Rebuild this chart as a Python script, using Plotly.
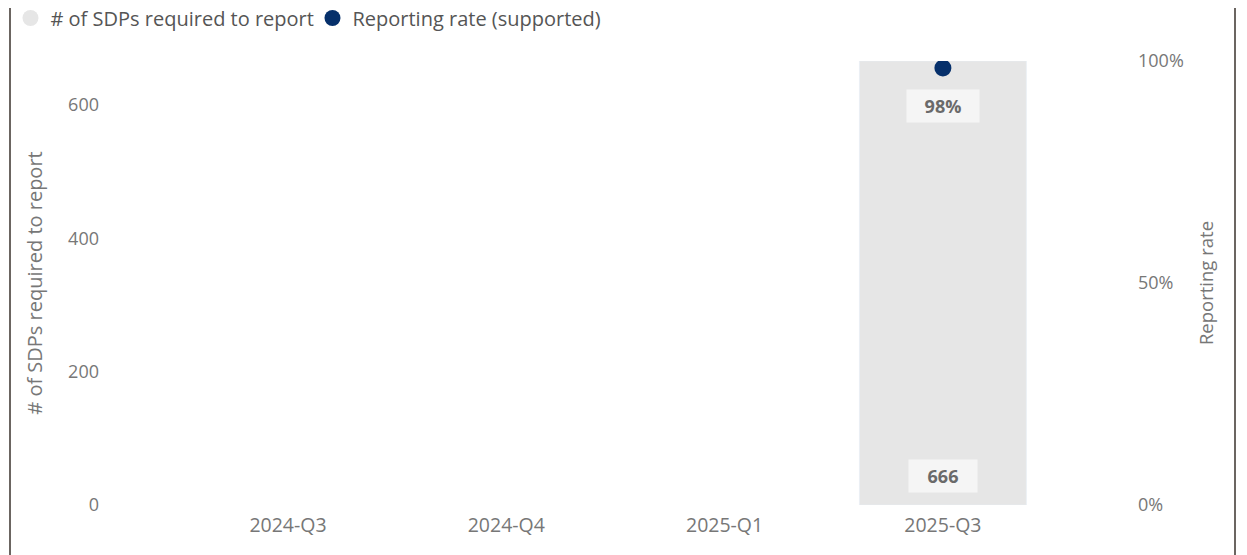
import plotly.graph_objects as go

quarters = ["2024-Q3", "2024-Q4", "2025-Q1", "2025-Q3"]
sdps_required = [None, None, None, 666]
reporting_rate = [None, None, None, 0.984]

BAR_COLOR = "#e6e6e6"
DOT_COLOR = "#06306b"
TXT = "#777777"
FONT = "Open Sans"

# page body adds an 8px offset; size the figure to the visible area
W, H = 1239, 547
L, R, T, B = 92, 117, 53, 50
pw = W - L - R

fig = go.Figure()
fig.add_trace(go.Bar(x=quarters, y=sdps_required, marker_color=BAR_COLOR, width=0.765,
                     showlegend=False, hoverinfo="x+y"))
fig.add_trace(go.Scatter(x=quarters, y=reporting_rate, yaxis="y2", mode="markers",
                         marker=dict(color=DOT_COLOR, size=17), showlegend=False))
# legend entries (circles)
fig.add_trace(go.Scatter(x=[None], y=[None], mode="markers", name="# of SDPs required to report",
                         marker=dict(color=BAR_COLOR, size=17)))
fig.add_trace(go.Scatter(x=[None], y=[None], mode="markers", name="Reporting rate (supported)",
                         marker=dict(color=DOT_COLOR, size=17)))

for q, v in zip(quarters, sdps_required):
    if v is not None:
        fig.add_annotation(x=q, y=0, yref="y", text=f"<b>{v}</b>", showarrow=False, yshift=29,
                           bgcolor="#f5f5f5", width=60, height=24, borderpad=4,
                           font=dict(family=FONT, size=18, color="#6a6a6a"))
for q, v in zip(quarters, reporting_rate):
    if v is not None:
        fig.add_annotation(x=q, y=v, yref="y2", text=f"<b>{v:.0%}</b>", showarrow=False, yshift=-38,
                           bgcolor="#f5f5f5", width=64, height=24, borderpad=4,
                           font=dict(family=FONT, size=18, color="#6a6a6a"))

# card side borders
for px in (2, 1227):
    xp = (px - L) / pw
    fig.add_shape(type="line", xref="paper", yref="paper", x0=xp, x1=xp, y0=-0.2, y1=1.3,
                  line=dict(color="#6b6561", width=2))

fig.update_layout(
    width=W, height=H,
    margin=dict(l=L, r=R, t=T, b=B, autoexpand=False),
    paper_bgcolor="white", plot_bgcolor="white",
    font=dict(family=FONT, size=18, color=TXT),
    xaxis=dict(type="category", categoryorder="array", categoryarray=quarters,
               range=[-0.861, 3.857], showgrid=False, zeroline=False, showline=False,
               ticks="", ticklabelstandoff=6, tickfont=dict(size=19.5, color=TXT)),
    yaxis=dict(range=[0, 666], tickvals=[0, 200, 400, 600], showgrid=False, zeroline=False,
               showline=False, ticks="", tickfont=dict(size=18, color=TXT),
               title=dict(text="# of SDPs required to report", font=dict(size=20, color=TXT), standoff=20)),
    yaxis2=dict(overlaying="y", side="right", range=[0, 1], tickvals=[0, 0.5, 1],
                tickformat=".0%", showgrid=False, zeroline=False, showline=False, ticks="",
                ticklabelstandoff=7, tickfont=dict(size=18, color=TXT),
                title=dict(text="Reporting rate", font=dict(size=18.5, color=TXT), standoff=17)),
    legend=dict(orientation="h", xref="container", yref="container", x=0.002, y=1 - 10 / H,
                xanchor="left", yanchor="middle", font=dict(size=20, color="#555555"),
                itemwidth=30, entrywidth=257, entrywidthmode="pixels",
                tracegroupgap=0, bgcolor="rgba(0,0,0,0)"),
    showlegend=True,
)

fig.write_html("out.html")
